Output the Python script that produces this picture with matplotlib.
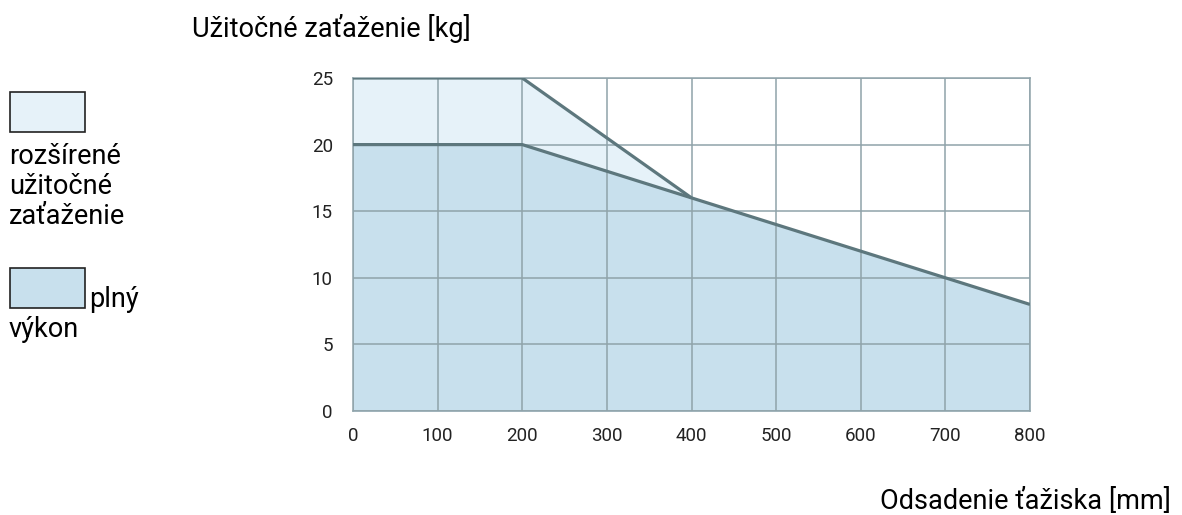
import matplotlib
matplotlib.use("Agg")
import matplotlib.pyplot as plt
from matplotlib.patches import Rectangle

plt.rcParams["font.family"] = ["Roboto", "DejaVu Sans"]

# payload curves: offset of centre of gravity [mm] -> payload [kg]
offset_ext = [0, 200, 400]
payload_ext = [25, 25, 16]
offset_full = [0, 200, 400, 700, 800]
payload_full = [20, 20, 16, 10, 8]
xticks = [0, 100, 200, 300, 400, 500, 600, 700, 800]
yticks = [0, 5, 10, 15, 20, 25]

C_EXT, C_FULL = "#e6f2f9", "#c8e0ed"
C_LINE, C_GRID = "#5d777d", "#8fa3aa"
W, H = 1182, 515
FS = 19.5

fig = plt.figure(figsize=(W / 100, H / 100), dpi=100)
ax = fig.add_axes([353 / W, 1 - 411 / H, 677 / W, 333 / H])

ax.fill_between(offset_ext, payload_ext, color=C_EXT, lw=0, zorder=1)
ax.fill_between(offset_full, payload_full, color=C_FULL, lw=0, zorder=1)
ax.set_xticks(xticks)
ax.set_yticks(yticks)
ax.grid(True, color=C_GRID, lw=1.1, zorder=2)
ax.set_axisbelow(False)
ax.plot(offset_ext, payload_ext, color=C_LINE, lw=2.3, zorder=3, solid_capstyle="butt")
ax.plot(offset_full, payload_full, color=C_LINE, lw=2.3, zorder=3, solid_capstyle="butt")
for s in ax.spines.values():
    s.set_color(C_GRID)
    s.set_linewidth(1.1)
ax.set_xlim(0, 800)
ax.set_ylim(0, 25)
ax.tick_params(length=0, labelsize=13.5, colors="#222222")
ax.tick_params(axis="x", pad=11.5)
ax.tick_params(axis="y", pad=14.5)

fig.text(192 / W, 1 - 37 / H, "Užitočné zaťaženie [kg]", fontsize=FS, va="baseline", ha="left")
fig.text(1171 / W, 1 - 509 / H, "Odsadenie ťažiska [mm]", fontsize=FS, va="baseline", ha="right")

# legend drawn by hand on the left
for y0, col in ((92, C_EXT), (268, C_FULL)):
    fig.patches.append(Rectangle((10 / W, 1 - (y0 + 40) / H), 75 / W, 40 / H,
                                 transform=fig.transFigure, facecolor=col,
                                 edgecolor="#222222", lw=1.2))
for txt, x, yb in (("rozšírené", 9, 164), ("užitočné", 9, 194), ("zaťaženie", 9, 224),
                   ("plný", 89, 307), ("výkon", 9, 337)):
    fig.text(x / W, 1 - yb / H, txt, fontsize=FS, va="baseline", ha="left")

fig.savefig("out.png", dpi=100)
